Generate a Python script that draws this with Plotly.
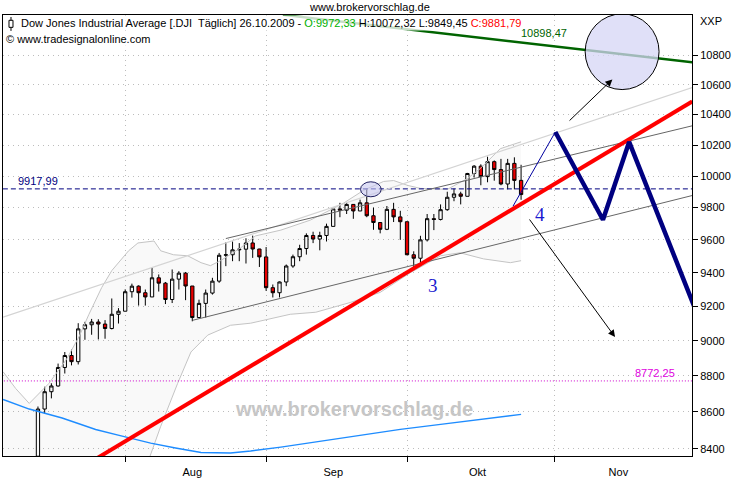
import math
import plotly.graph_objects as go

# ---------------- data (bar index 0 = 15.07.2009) ----------------
opens = [8360, 8616, 8712, 8744, 8848, 8916, 8881, 9069, 9093, 9109, 9097, 9071, 9154,
         9172, 9287, 9320, 9281, 9256, 9370, 9338, 9241, 9362, 9398, 9321, 9135, 9218, 9279, 9350,
         9506, 9509, 9539, 9543, 9581, 9544,
         9496, 9311, 9281, 9345, 9441, 9497, 9547, 9627, 9605, 9627, 9683, 9792, 9784, 9820, 9779,
         9830, 9749, 9707, 9665, 9789, 9742,
         9712, 9509, 9488, 9600, 9731, 9726, 9787, 9865, 9886, 9871, 10016, 10063, 9996, 10092,
         10041, 9949, 10081, 9972]
highs = [8630, 8740, 8759, 8870, 8936, 8950, 9102, 9110, 9127, 9125, 9120, 9247, 9190,
         9301, 9335, 9325, 9300, 9430, 9390, 9345, 9420, 9410, 9405, 9321, 9240, 9300, 9370, 9520,
         9585, 9590, 9580, 9610, 9626, 9545,
         9556, 9330, 9348, 9450, 9510, 9570, 9640, 9650, 9650, 9700, 9795, 9830, 9830, 9822, 9850,
         9918, 9800, 9710, 9810, 9830, 9780,
         9712, 9530, 9625, 9760, 9760, 9820, 9900, 9920, 9900, 10020, 10070, 10075, 10124, 10100,
         10110, 10110, 10120, 10072]
lows = [8350, 8591, 8675, 8740, 8814, 8860, 8865, 9006, 9035, 9008, 9012, 9066, 9100,
        9172, 9252, 9205, 9205, 9256, 9288, 9214, 9220, 9300, 9237, 9113, 9135, 9135, 9270, 9340,
        9440, 9470, 9470, 9456, 9490, 9435,
        9292, 9253, 9253, 9320, 9430, 9470, 9510, 9580, 9536, 9590, 9683, 9740, 9760, 9730, 9779,
        9740, 9662, 9640, 9660, 9710, 9600,
        9507, 9430, 9440, 9590, 9660, 9720, 9780, 9840, 9820, 9871, 9990, 9941, 9960, 9970,
        9941, 9915, 9915, 9849]
closes = [8616, 8712, 8744, 8848, 8916, 8881, 9069, 9093, 9109, 9097, 9071, 9154, 9172,
          9287, 9320, 9281, 9256, 9370, 9338, 9241, 9362, 9398, 9321, 9135, 9218, 9279, 9350, 9506,
          9509, 9539, 9543, 9581, 9544, 9496,
          9311, 9281, 9345, 9441, 9497, 9547, 9627, 9605, 9627, 9683, 9792, 9784, 9820, 9779, 9830,
          9749, 9707, 9665, 9789, 9742, 9712,
          9509, 9488, 9600, 9731, 9726, 9787, 9865, 9886, 9871, 10016, 10063, 9996, 10092, 10041,
          9949, 10081, 9972, 9882]

month_labels = ["Aug", "Sep", "Okt", "Nov"]
month_start_bar = [13, 34, 55, 77]
month_label_bar = [23, 44, 65.5, 86.5]
y_ticks = [8400, 8600, 8800, 9000, 9200, 9400, 9600, 9800, 10000, 10200, 10400, 10600, 10800]

# Bollinger bands (bar index, price)
bb_up_x = [-5.2, -3.3, -1.3, -0.3, 1.6, 4.2, 6.1, 7.6, 9.5, 11, 13.5, 14.9, 17.3, 18.3, 20.2, 22.3,
           24.3, 25.7, 27.2, 30.2, 32.4, 36.2, 40.6, 45.5, 48.5, 51.5, 53, 55.1, 57, 61, 64, 65.9,
           68.9, 72]
bb_up_y = [8824, 8729, 8647, 8685, 8757, 8891, 9022, 9154, 9312, 9413, 9533, 9581, 9593, 9533, 9509,
           9503, 9461, 9443, 9473, 9551, 9624, 9660, 9722, 9827, 9908, 9965, 9971, 9940, 9921, 9915,
           9984, 10047, 10176, 10221]
bb_lo_x = [-5.2, 5, 12, 16.6, 18.3, 20.8, 22.8, 25.3, 28.7, 31.7, 37.6, 41.4, 46.6, 51, 55.5, 60,
           62.9, 66.4, 70.4, 72]
bb_lo_y = [8250, 8150, 8200, 8350, 8522, 8757, 8936, 9033, 9090, 9102, 9154, 9166, 9224, 9283,
           9401, 9503, 9521, 9484, 9461, 9473]
# 200-day average
ma_x = [-5.2, -1.3, 3.6, 8.6, 12.1, 16.8, 20.5, 24.3, 28.7, 31.7, 36.2, 42.1, 48.1, 54, 60, 65.9, 72]
ma_y = [8669, 8616, 8567, 8504, 8472, 8430, 8404, 8380, 8377, 8388, 8409, 8441, 8473, 8505, 8532,
        8560, 8587]

# drawn trend lines (bar index, price)
red_trend_x, red_trend_y = [6.4, 97.5], [8298, 10488]
green_line_x, green_line_y = [36.5, 97.5], [11085, 10754]
grey_line_x, grey_line_y = [-5.2, 97.5], [9137, 10582]
chan_up_x, chan_up_y = [28, 97.5], [9608, 10326]
chan_lo_x, chan_lo_y = [23.07, 97.5], [9119, 9876]
wave_thin_x, wave_thin_y = [70.8, 77.1], [9809, 10285]
wave_x = [77.1, 84.2, 88.1, 101.6]
wave_y = [10285, 9724, 10220, 8829]
level_high = 9917.99
level_low = 8772.25
green_value = 10898.47

FONT = "Liberation Sans, Arial, sans-serif"
L10 = math.log10

fig = go.Figure()

# Bollinger band fill and lines
fig.add_trace(go.Scatter(x=bb_lo_x, y=bb_lo_y, mode="lines",
                         line=dict(color="#c4c4c4", width=1), hoverinfo="skip"))
fig.add_trace(go.Scatter(x=bb_up_x, y=bb_up_y, mode="lines", fill="tonexty",
                         fillcolor="rgba(0,0,0,0.022)", line=dict(color="#c4c4c4", width=1),
                         hoverinfo="skip"))

# moving average
fig.add_trace(go.Scatter(x=ma_x, y=ma_y, mode="lines",
                         line=dict(color="#1e8cff", width=1.4), hoverinfo="skip"))

# horizontal levels
fig.add_trace(go.Scatter(x=[-10, 110], y=[level_high, level_high], mode="lines",
                         line=dict(color="#000080", width=1, dash="5px,3px"), hoverinfo="skip"))
fig.add_trace(go.Scatter(x=[-10, 110], y=[level_low, level_low], mode="lines",
                         line=dict(color="#cc00cc", width=1, dash="1px,2px"), hoverinfo="skip"))

# channel lines
fig.add_trace(go.Scatter(x=grey_line_x, y=grey_line_y, mode="lines",
                         line=dict(color="#d4d4d4", width=1.2), hoverinfo="skip"))
fig.add_trace(go.Scatter(x=chan_up_x, y=chan_up_y, mode="lines",
                         line=dict(color="#666666", width=1), hoverinfo="skip"))
fig.add_trace(go.Scatter(x=chan_lo_x, y=chan_lo_y, mode="lines",
                         line=dict(color="#666666", width=1), hoverinfo="skip"))

# candles
fig.add_trace(go.Candlestick(
    x=list(range(len(closes))), open=opens, high=highs, low=lows, close=closes,
    increasing=dict(fillcolor="#ffffff", line=dict(color="#000000", width=1)),
    decreasing=dict(fillcolor="#ee0000", line=dict(color="#000000", width=1)),
    whiskerwidth=0, hoverinfo="skip"))

# red trend line, green line, wave projection
fig.add_trace(go.Scatter(x=red_trend_x, y=red_trend_y, mode="lines",
                         line=dict(color="#ff0000", width=4), hoverinfo="skip"))
fig.add_trace(go.Scatter(x=green_line_x, y=green_line_y, mode="lines",
                         line=dict(color="#006400", width=2.5), hoverinfo="skip"))
fig.add_trace(go.Scatter(x=wave_thin_x, y=wave_thin_y, mode="lines",
                         line=dict(color="#0000a0", width=1), hoverinfo="skip"))
fig.add_trace(go.Scatter(x=wave_x, y=wave_y, mode="lines",
                         line=dict(color="#000080", width=4.5), hoverinfo="skip"))

shapes = [
    dict(type="circle", xref="x", yref="y", x0=48.07, x1=51.15, y0=9868, y1=9963,
         fillcolor="rgba(200,200,240,0.6)", line=dict(color="#202060", width=1)),
    dict(type="circle", xref="x", yref="y", x0=81.55, x1=92.56, y0=10568, y1=11092,
         fillcolor="rgba(214,214,246,0.75)", line=dict(color="#000000", width=1)),
    # small candle icon in the header
    dict(type="line", xref="paper", yref="paper", x0=0.0116, x1=0.0116, y0=0.9640, y1=0.9955,
         line=dict(color="#000000", width=1)),
    dict(type="rect", xref="paper", yref="paper", x0=0.0087, x1=0.0145, y0=0.972, y1=0.988,
         fillcolor="#ffffff", line=dict(color="#000000", width=1)),
]

ann = []
# arrows
ann.append(dict(x=85.6, y=L10(10637), ax=79.0, ay=L10(10351), xref="x", yref="y",
                axref="x", ayref="y", text="", showarrow=True, arrowhead=2, arrowsize=1.4,
                arrowwidth=1, arrowcolor="#000000"))
ann.append(dict(x=86.0, y=L10(9022), ax=73.1, ay=L10(9735), xref="x", yref="y",
                axref="x", ayref="y", text="", showarrow=True, arrowhead=2, arrowsize=1.4,
                arrowwidth=1, arrowcolor="#000000"))
# wave numbers
ann.append(dict(x=58.8, y=L10(9323), xref="x", yref="y", text="3", showarrow=False,
                font=dict(family="Liberation Serif, Times New Roman, serif", size=19,
                          color="#1a1ad0")))
ann.append(dict(x=74.85, y=L10(9755), xref="x", yref="y", text="4", showarrow=False,
                font=dict(family="Liberation Serif, Times New Roman, serif", size=19,
                          color="#1a1ad0")))
# level labels
ann.append(dict(x=0.019, y=L10(level_high), xref="paper", yref="y", xanchor="left",
                yanchor="bottom", text="9917,99", showarrow=False, yshift=0,
                font=dict(family=FONT, size=11, color="#000080")))
ann.append(dict(x=0.978, y=L10(level_low), xref="paper", yref="y", xanchor="right",
                yanchor="bottom", text="8772,25", showarrow=False, yshift=0,
                font=dict(family=FONT, size=11, color="#e000e0")))
ann.append(dict(x=75.45, y=L10(green_value), xref="x", yref="y", xanchor="center",
                yanchor="bottom", text="10898,47", showarrow=False,
                font=dict(family=FONT, size=11, color="#006400")))
# watermark
ann.append(dict(x=0.51, y=0.1056, xref="paper", yref="paper", xanchor="center", yanchor="middle",
                text="<b>www.brokervorschlag.de</b>",
                showarrow=False, font=dict(family=FONT, size=20, color="#c6c6c6")))
# header
ann.append(dict(x=0.0232, y=0.982, xref="paper", yref="paper", xanchor="left", yanchor="middle",
                text="Dow Jones Industrial Average [.DJI\u00a0 Täglich] 26.10.2009 - "
                     "<span style='color:#00b000'>O:9972,33</span> H:10072,32 L:9849,45 "
                     "<span style='color:#ff0000'>C:9881,79</span>",
                showarrow=False, bgcolor="rgba(255,255,255,0.78)", borderpad=1,
                font=dict(family=FONT, size=11, color="#000000")))
ann.append(dict(x=0.0015, y=0.945, xref="paper", yref="paper", xanchor="left", yanchor="middle",
                text="© www.tradesignalonline.com", showarrow=False,
                bgcolor="rgba(255,255,255,0.78)", borderpad=1,
                font=dict(family=FONT, size=11, color="#000000")))
ann.append(dict(x=0.532, y=1.018, xref="paper", yref="paper", xanchor="center", yanchor="middle",
                text="www.brokervorschlag.de", showarrow=False,
                font=dict(family=FONT, size=11, color="#000000")))
ann.append(dict(x=1.008, y=0.9865, xref="paper", yref="paper", xanchor="left", yanchor="middle",
                text="XXP", showarrow=False, font=dict(family=FONT, size=11, color="#000000")))

fig.update_layout(
    width=740, height=480,
    margin=dict(l=2, r=48, t=15, b=20),
    paper_bgcolor="#ffffff", plot_bgcolor="#ffffff",
    showlegend=False, hovermode=False,
    font=dict(family=FONT, size=11, color="#000000"),
    shapes=shapes, annotations=ann,
    xaxis=dict(range=[-5.21, 97.47], rangeslider=dict(visible=False),
               tickmode="array", tickvals=month_label_bar, ticktext=month_labels,
               ticks="", showgrid=False, zeroline=False,
               showline=True, mirror=True, linecolor="#000000", linewidth=1,
               ticklabelstandoff=6,
               minor=dict(tickmode="array", tickvals=month_start_bar, ticks="outside",
                          ticklen=5, tickcolor="#000000", showgrid=True,
                          gridcolor="#bcbcbc", griddash="1px,4px", gridwidth=1)),
    yaxis=dict(type="log", side="right", range=[3.922271, 4.044692],
               tickmode="array", tickvals=y_ticks, ticktext=[str(v) for v in y_ticks],
               ticks="outside", ticklen=5, tickcolor="#000000",
               showgrid=True, gridcolor="#bcbcbc", griddash="1px,4px", gridwidth=1,
               zeroline=False, showline=True, mirror=True, linecolor="#000000", linewidth=1),
)

fig.write_html("out.html", config={"displayModeBar": False},
               post_script="document.body.style.margin='0px';")
